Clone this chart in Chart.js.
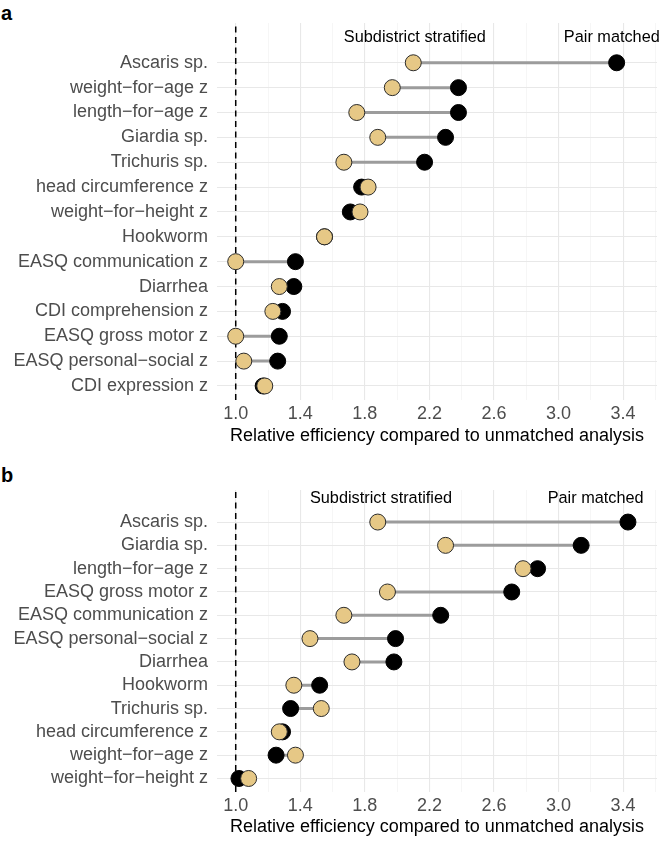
<!DOCTYPE html>
<html>
<head>
<meta charset="utf-8">
<script src="https://cdn.jsdelivr.net/npm/chart.js@4.4.1/dist/chart.umd.min.js"></script>
<style>
  html, body { margin: 0; padding: 0; background: #fff; }
  #wrap { position: relative; width: 666px; height: 842px; overflow: hidden; }
  canvas { position: absolute; left: 0; }
  .tag { position: absolute; left: 1px; font: bold 20px "Liberation Sans", Arial, sans-serif; line-height: 20px; color: #000; }
</style>
</head>
<body>
<div id="wrap">
  <div class="tag" style="top:3px">a</div>
  <canvas id="chartA" width="666" height="460" style="top:0"></canvas>
  <div class="tag" style="top:465px">b</div>
  <canvas id="chartB" width="666" height="382" style="top:460px"></canvas>
</div>
<script>
// panel a, top to bottom
const catsA = ['Ascaris sp.', 'weight\u2212for\u2212age z', 'length\u2212for\u2212age z', 'Giardia sp.',
  'Trichuris sp.', 'head circumference z', 'weight\u2212for\u2212height z', 'Hookworm',
  'EASQ communication z', 'Diarrhea', 'CDI comprehension z', 'EASQ gross motor z',
  'EASQ personal\u2212social z', 'CDI expression z']
const pairA = [3.36, 2.38, 2.38, 2.30, 2.17, 1.78, 1.71, 1.55, 1.37, 1.36, 1.29, 1.27, 1.26, 1.17]
const stratA = [2.10, 1.97, 1.75, 1.88, 1.67, 1.82, 1.77, 1.55, 1.00, 1.27, 1.23, 1.00, 1.05, 1.18]

// panel b, top to bottom
const catsB = ['Ascaris sp.', 'Giardia sp.', 'length\u2212for\u2212age z', 'EASQ gross motor z',
  'EASQ communication z', 'EASQ personal\u2212social z', 'Diarrhea', 'Hookworm',
  'Trichuris sp.', 'head circumference z', 'weight\u2212for\u2212age z', 'weight\u2212for\u2212height z']
const pairB = [3.43, 3.14, 2.87, 2.71, 2.27, 1.99, 1.98, 1.52, 1.34, 1.29, 1.25, 1.02]
const stratB = [1.88, 2.30, 2.78, 1.94, 1.67, 1.46, 1.72, 1.36, 1.53, 1.27, 1.37, 1.08]

const xMajor = [1.0, 1.4, 1.8, 2.2, 2.6, 3.0, 3.4]
const xMinor = [1.2, 1.6, 2.0, 2.4, 2.8, 3.2, 3.6]
const seriesNames = ['Subdistrict stratified', 'Pair matched']

const FONT = '"Liberation Sans", Arial, sans-serif'
const TAN = '#E6C886'

// text labels above the top row
const headerPlugin = {
  id: 'header',
  afterDatasetsDraw(chart, args, opts) {
    const { ctx, scales: { x, y } } = chart
    ctx.save()
    ctx.font = '16.3px ' + FONT
    ctx.fillStyle = '#000'
    ctx.textAlign = 'center'
    ctx.textBaseline = 'middle'
    seriesNames.forEach((t, i) => {
      ctx.fillText(t, x.getPixelForValue(opts.at[i]), y.getPixelForValue(opts.row))
    })
    ctx.restore()
  }
}

const isMajor = v => xMajor.some(m => Math.abs(m - v) < 1e-6)

function makeChart(id, cats, pair, strat, cfg) {
  const n = cats.length
  const rowOf = i => n - i
  const segs = []
  cats.forEach((c, i) => {
    segs.push({ x: strat[i], y: rowOf(i) }, { x: pair[i], y: rowOf(i) }, { x: null, y: null })
  })
  new Chart(document.getElementById(id), {
    type: 'scatter',
    data: {
      datasets: [
        {
          label: seriesNames[0],
          data: strat.map((v, i) => ({ x: v, y: rowOf(i) })),
          backgroundColor: TAN, borderColor: '#2b2b2b', borderWidth: 1,
          pointRadius: 8, order: 1
        },
        {
          label: seriesNames[1],
          data: pair.map((v, i) => ({ x: v, y: rowOf(i) })),
          backgroundColor: '#000', borderColor: '#000', borderWidth: 1,
          pointRadius: 8, order: 2
        },
        {
          data: segs, showLine: true, spanGaps: false, pointRadius: 0,
          borderColor: '#9c9c9c', borderWidth: 3, order: 3
        },
        {
          data: [{ x: 1, y: cfg.ymin }, { x: 1, y: cfg.ymax }], showLine: true, pointRadius: 0,
          borderColor: '#000', borderWidth: 1.5, borderDash: [6, 4.5], order: 4
        }
      ]
    },
    options: {
      responsive: false, animation: false, devicePixelRatio: 1,
      layout: { padding: { top: cfg.padTop, right: 2, left: 0, bottom: 0 } },
      plugins: { legend: { display: false }, tooltip: { enabled: false }, header: { at: cfg.at, row: n + 1 } },
      scales: {
        x: {
          type: 'linear', min: 0.884, max: 3.61,
          afterBuildTicks: s => { s.ticks = xMajor.concat(xMinor).sort((a, b) => a - b).map(v => ({ value: v })) },
          afterFit: s => { s.height = cfg.xh },
          ticks: {
            padding: 3, color: '#4D4D4D', font: { family: FONT, size: 18 },
            autoSkip: false, maxRotation: 0,
            callback: v => isMajor(v) ? v.toFixed(1) : ''
          },
          grid: {
            drawTicks: false,
            color: c => isMajor(c.tick.value) ? '#E8E8E8' : '#F4F4F4',
            lineWidth: c => isMajor(c.tick.value) ? 1.1 : 0.8
          },
          border: { display: false },
          title: {
            display: true, text: 'Relative efficiency compared to unmatched analysis',
            color: '#000', font: { family: FONT, size: 18 }, padding: { top: 0, bottom: cfg.titlePad }
          }
        },
        y: {
          type: 'linear', min: cfg.ymin, max: cfg.ymax,
          afterBuildTicks: s => { s.ticks = cats.map((c, i) => ({ value: rowOf(i) })) },
          afterFit: s => { s.width = 217 },
          ticks: {
            padding: 9, color: '#4D4D4D', font: { family: FONT, size: 18 }, autoSkip: false,
            callback: v => cats[n - v]
          },
          grid: { drawTicks: false, color: '#E8E8E8', lineWidth: 1.1 },
          border: { display: false }
        }
      }
    },
    plugins: [headerPlugin]
  })
}

makeChart('chartA', catsA, pairA, stratA, { ymin: 0.436, ymax: 15.6, padTop: 23, xh: 60, titlePad: 13, at: [2.11, 3.33] })
makeChart('chartB', catsB, pairB, stratB, { ymin: 0.42, ymax: 13.375, padTop: 30, xh: 50, titlePad: 4, at: [1.90, 3.23] })
</script>
</body>
</html>
